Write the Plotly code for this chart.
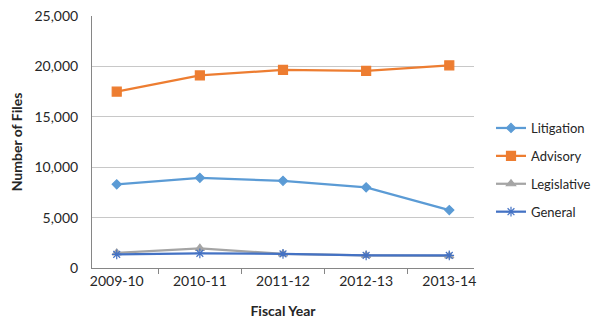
import plotly.graph_objects as go

years = ["2009-10", "2010-11", "2011-12", "2012-13", "2013-14"]
litigation = [8300, 8950, 8650, 8000, 5750]
advisory = [17500, 19100, 19650, 19550, 20100]
legislative = [1500, 1950, 1400, 1250, 1200]
general = [1350, 1450, 1400, 1250, 1250]

series = [
    ("Litigation", litigation, "#5B9BD5", "diamond", 7),
    ("Advisory", advisory, "#ED7D31", "square", 9),
    ("Legislative", legislative, "#A5A5A5", "triangle-up", 8),
    ("General", general, "#4472C4", "asterisk-open", 8),
]

font = "Lato, Open Sans, sans-serif"

fig = go.Figure()
for name, vals, color, symbol, size in series:
    fig.add_trace(go.Scatter(
        x=years, y=vals, name=name, mode="lines+markers",
        legendgroup=name,
        line=dict(color=color, width=2.25),
        marker=dict(symbol=symbol, size=size, color=color,
                    line=dict(color=color, width=1.2)),
    ))

# the page has an 8px body margin, so the figure is drawn 8px smaller
fig.update_layout(
    width=592, height=324,
    margin=dict(l=84, r=126, t=8, b=64, autoexpand=False),
    paper_bgcolor="white", plot_bgcolor="white",
    font=dict(family=font, size=14, color="#262626"),
    showlegend=True,
    legend=dict(x=1.0445, y=0.615, xanchor="left", yanchor="top",
                traceorder="grouped", tracegroupgap=8,
                font=dict(size=13, color="#262626"),
                itemwidth=30),
    xaxis=dict(
        type="category", automargin=False,
        showline=True, linecolor="#868686", linewidth=1,
        ticks="outside", tickson="boundaries", ticklen=5,
        tickcolor="#868686", showgrid=False,
        title=dict(text="<b>Fiscal Year</b>", standoff=18,
                   font=dict(size=14, color="#262626")),
    ),
    yaxis=dict(
        range=[0, 25000], dtick=5000, tickformat=",", automargin=False,
        ticklabeloverflow="allow",
        showline=True, linecolor="#868686", linewidth=1,
        showgrid=True, gridcolor="#c8c8c8", gridwidth=1,
        zeroline=False, ticklabelstandoff=10,
        title=dict(text="<b>Number of Files</b>", standoff=12,
                   font=dict(size=14, color="#262626")),
    ),
)

fig.write_html("out.html")
